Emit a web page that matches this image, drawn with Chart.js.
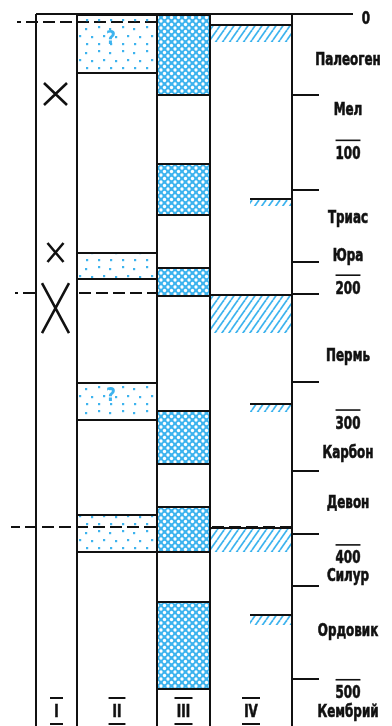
<!DOCTYPE html>
<html><head><meta charset="utf-8">
<script src="https://cdn.jsdelivr.net/npm/chart.js@4/dist/chart.umd.min.js"></script>
<style>html,body{margin:0;padding:0;background:#fff;}canvas{display:block;}</style>
</head><body>
<canvas id="c" width="392" height="726"></canvas>
<script>
// ---------- data (ages in million years, top = 0) ----------
const columnNames = ['I', 'II', 'III', 'IV'];
const ageLabels = [0, 100, 200, 300, 400, 500];
const periodNames = ['Палеоген', 'Мел', 'Триас', 'Юра', 'Пермь', 'Карбон', 'Девон', 'Силур', 'Ордовик', 'Кембрий'];
const periodLabelAges = [33.0, 70.4, 150.5, 178.7, 252.9, 324.8, 361.9, 416.0, 456.8, 516.9];
const periodBoundaries = [60.1, 130.5, 183.9, 207.6, 272.9, 338.9, 385.6, 424.2, 493.1];
const colICrosses = [[51.2, 67.5], [169.8, 183.9], [199.5, 236.6]];
const colIIBlocks = [[0, 44.5], [176.5, 197.3], [272.9, 301.8], [370.8, 399.7]];
const colIIUncertain = [true, false, true, false];
const colIIIBlocks = [[0, 60.8], [110.5, 149.8], [187.6, 209.9], [293.7, 334.4], [364.8, 399.7], [435.3, 501.3]];
const colIVBlocks = [[7.4, 20.8], [207.6, 236.6], [380.4, 399.0]];
const colIVMinor = [[136.4, 142.4], [288.5, 295.1], [445.0, 453.1]];
const dashedLevels = [5.9, 206.9, 380.4];

// ---------- layout / style ----------
const AGE_MAX = 528;
const COL_EDGES = [0, 41, 121, 174, 256];           // x units (1 unit = 1 px)
const colCenter = i => (COL_EDGES[i] + COL_EDGES[i + 1]) / 2;
const colWidth = i => COL_EDGES[i + 1] - COL_EDGES[i];
const MINOR_SPAN = [214, 256];
const CROSS_W = [23, 16, 27];
const DASH_SPANS = [[[-19, 121]], [[-21, -1], [41, 174]], [[-25, 256]]];
const INK = '#111';
const BLUE = '#3db3ee';
const FONT = '"Liberation Sans Narrow","DejaVu Sans Condensed","Arial Narrow",sans-serif';
const SX = 0.78; // horizontal condensing of the lettering

function makePattern(w, h, draw) {
  const c = document.createElement('canvas'); c.width = w; c.height = h;
  const g = c.getContext('2d'); draw(g); return g.createPattern(c, 'repeat');
}
const dotPat = makePattern(24, 24, g => {
  g.fillStyle = BLUE;
  [[3, 3], [14, 5], [8, 12], [20, 13], [3, 20], [15, 20]].forEach(([x, y]) => { g.fillRect(x - 1, y - 1, 2.2, 2.2); });
});
const meshPat = makePattern(7, 7, g => {
  g.fillStyle = BLUE; g.fillRect(0, 0, 7, 7); g.fillStyle = '#fff';
  [[0, 0], [7, 0], [0, 7], [7, 7], [3.5, 3.5]].forEach(([x, y]) => { g.beginPath(); g.arc(x, y, 1.65, 0, 7); g.fill(); });
});
const hatchPat = makePattern(7, 10, g => {
  g.strokeStyle = BLUE; g.lineWidth = 1.7;
  [-7, 0, 7].forEach(o => { g.beginPath(); g.moveTo(o, 10); g.lineTo(o + 7, 0); g.stroke(); });
});

// cross strokes
const crossPts = [];
colICrosses.forEach(([s, e], i) => {
  const cx = colCenter(0) - 1, h = CROSS_W[i] / 2;
  crossPts.push({x: cx - h, y: s}, {x: cx + h, y: e}, {x: cx, y: null},
                {x: cx + h, y: s}, {x: cx - h, y: e}, {x: cx, y: null});
});
// dashed level lines (listed right-to-left so nothing is trimmed)
const dashPts = [];
dashedLevels.forEach((lv, i) => {
  DASH_SPANS[i].slice().reverse().forEach(([a, b]) => {
    dashPts.push({x: b, y: lv}, {x: a, y: lv}, {x: a, y: null});
  });
});

const barCommon = {type: 'bar', stack: 's', borderColor: INK, borderSkipped: false, inflateAmount: 0};

const textPlugin = {
  id: 'geoText',
  afterDraw(chart) {
    const {ctx, chartArea: a, scales: {x, y}} = chart;
    const text = (s, tx, ty) => {
      ctx.save(); ctx.translate(tx, ty); ctx.scale(SX, 1);
      ctx.fillText(s, 0, 0); ctx.lineWidth = 0.6; ctx.strokeText(s, 0, 0); ctx.restore();
    };
    const tw = s => ctx.measureText(s).width * SX;
    ctx.save();
    ctx.fillStyle = INK; ctx.strokeStyle = INK;
    const y0 = y.getPixelForValue(0);
    ctx.lineWidth = 2; ctx.beginPath(); ctx.moveTo(a.left, y0); ctx.lineTo(a.right + 61, y0); ctx.stroke();
    ctx.font = 'bold 17px ' + FONT; ctx.textAlign = 'center'; ctx.textBaseline = 'alphabetic';
    const lx = a.right + 56;
    periodNames.forEach((n, i) => text(n, lx, y.getPixelForValue(periodLabelAges[i]) + 6));
    ageLabels.forEach(v => {
      const cy = y.getPixelForValue(v) + 4;
      const s = String(v);
      if (v === 0) { text(s, a.right + 74, cy + 6); return; }
      text(s, lx, cy + 6);
      const w = tw(s);
      ctx.lineWidth = 1.6; ctx.beginPath(); ctx.moveTo(lx - w / 2, cy - 12.5); ctx.lineTo(lx + w / 2, cy - 12.5); ctx.stroke();
    });
    columnNames.forEach((n, i) => {
      const cx = x.getPixelForValue(colCenter(i));
      text(n, cx, a.bottom - 9);
      const w = Math.max(13, Math.min(18, tw(n) + 8));
      ctx.lineWidth = 2; ctx.beginPath();
      ctx.moveTo(cx - w / 2, a.bottom - 28); ctx.lineTo(cx + w / 2, a.bottom - 28);
      ctx.moveTo(cx - w / 2, a.bottom - 2); ctx.lineTo(cx + w / 2, a.bottom - 2);
      ctx.stroke();
    });
    ctx.fillStyle = BLUE;
    ctx.font = 'bold 19px ' + FONT;
    colIIBlocks.forEach((b, i) => {
      if (!colIIUncertain[i]) return;
      const cx = x.getPixelForValue(colCenter(1)) - 6;
      const cy = (y.getPixelForValue(b[0]) + y.getPixelForValue(b[1])) / 2 - 7;
      ctx.fillText('?', cx, cy + 7);
    });
    ctx.restore();
  }
};

new Chart(document.getElementById('c'), {
  type: 'bar',
  data: {
    datasets: [
      Object.assign({}, barCommon, {data: colIIBlocks.map(b => ({x: colCenter(1), y: b})), barThickness: colWidth(1),
        backgroundColor: dotPat, borderWidth: {top: 2, bottom: 2, left: 0, right: 0}}),
      Object.assign({}, barCommon, {data: colIIIBlocks.map(b => ({x: colCenter(2), y: b})), barThickness: colWidth(2),
        backgroundColor: meshPat, borderWidth: {top: 2, bottom: 2, left: 0, right: 0}}),
      Object.assign({}, barCommon, {data: colIVBlocks.map(b => ({x: colCenter(3), y: b})), barThickness: colWidth(3),
        backgroundColor: hatchPat, borderWidth: {top: 2, bottom: 0, left: 0, right: 0}}),
      Object.assign({}, barCommon, {data: colIVMinor.map(b => ({x: (MINOR_SPAN[0] + MINOR_SPAN[1]) / 2, y: b})), barThickness: MINOR_SPAN[1] - MINOR_SPAN[0],
        backgroundColor: hatchPat, borderWidth: {top: 2, bottom: 0, left: 0, right: 0}}),
      {type: 'line', data: dashPts, borderColor: INK, borderWidth: 2, borderDash: [12, 5], pointRadius: 0, spanGaps: false, clip: false, tension: 0},
      {type: 'line', data: crossPts, borderColor: INK, borderWidth: 2.6, pointRadius: 0, spanGaps: false, clip: false, tension: 0}
    ]
  },
  options: {
    responsive: false, animation: false, devicePixelRatio: 1,
    layout: {padding: {left: 36, right: 73, top: 14, bottom: 0}},
    plugins: {legend: {display: false}, tooltip: {enabled: false}},
    scales: {
      x: {type: 'linear', min: 0, max: 256, stacked: true, offset: false,
        afterBuildTicks: s => { s.ticks = COL_EDGES.map(v => ({value: v})); },
        ticks: {display: false}, grid: {color: INK, lineWidth: 2, drawTicks: false, offset: false, z: 1},
        border: {display: false}, afterFit: s => { s.height = 0; }},
      y: {type: 'linear', position: 'right', reverse: true, min: 0, max: AGE_MAX, stacked: false, beginAtZero: false,
        afterBuildTicks: s => { s.ticks = periodBoundaries.map(v => ({value: v})); },
        ticks: {display: false},
        grid: {drawOnChartArea: false, drawTicks: true, tickLength: 27, color: INK, lineWidth: 2},
        border: {display: true, color: INK, width: 2}, afterFit: s => { s.width = 27; }}
    }
  },
  plugins: [textPlugin]
});
</script>
</body></html>
